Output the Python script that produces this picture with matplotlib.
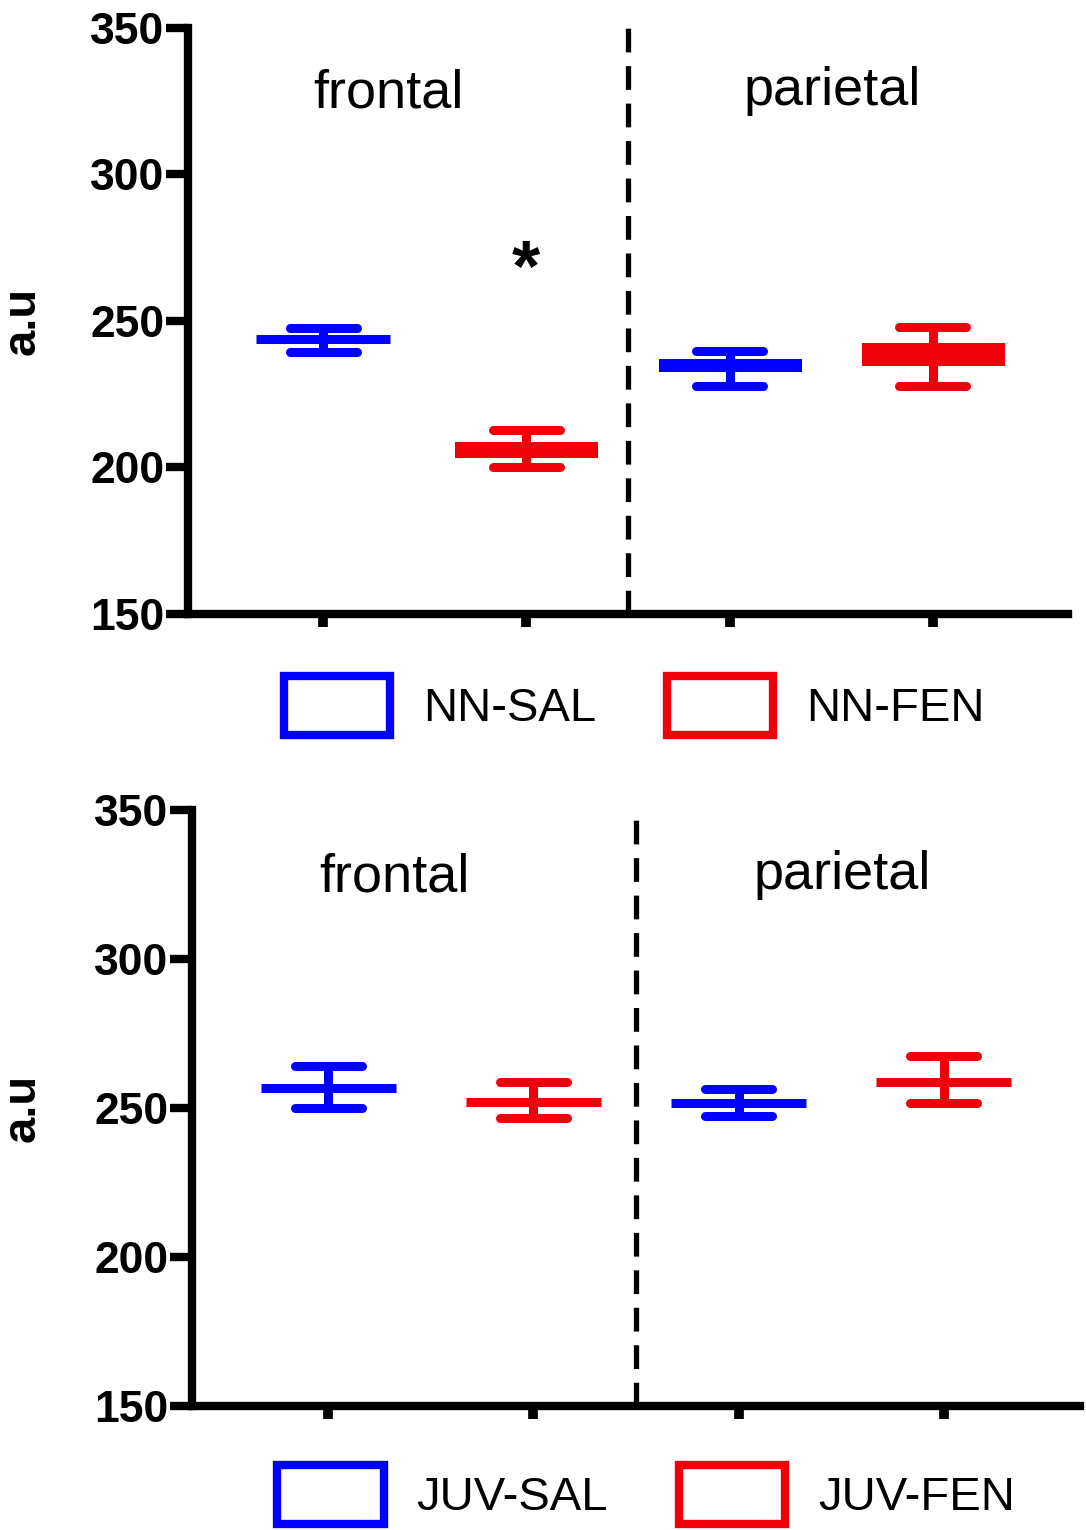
import matplotlib.pyplot as plt
from matplotlib.patches import Patch

plt.rcParams['font.family'] = ['Liberation Sans', 'DejaVu Sans']

# x positions: frontal SAL, frontal FEN, parietal SAL, parietal FEN
positions = [0, 1, 2, 3]
regions = ['frontal', 'parietal']
colors = ['#0000ff', '#f0000a', '#0000ff', '#f0000a']
yticks = [150, 200, 250, 300, 350]

# neonatal (top panel)
nn_groups = ['NN-SAL', 'NN-FEN']
nn_box_lo = [244.0, 204.9, 234.4, 236.3]
nn_box_hi = [244.0, 207.3, 235.6, 241.2]
nn_err_lo = [239.3, 200.0, 227.9, 227.9]
nn_err_hi = [247.7, 212.7, 239.9, 248.1]
nn_star = (1, 260.5)

# juvenile (bottom panel)
juv_groups = ['JUV-SAL', 'JUV-FEN']
juv_box_lo = [256.7, 252.1, 251.6, 258.7]
juv_box_hi = [256.7, 252.1, 251.6, 258.7]
juv_err_lo = [250.2, 246.8, 247.5, 251.8]
juv_err_hi = [264.2, 258.9, 256.4, 267.5]

fig = plt.figure(figsize=(10.86, 15.30), dpi=100)
ax1 = fig.add_axes([0.1731, 0.5987, 0.8103, 0.3830])
ax2 = fig.add_axes([0.1768, 0.0810, 0.8177, 0.3895])

LW = 6.5


def draw_panel(ax, box_lo, box_hi, err_lo, err_hi, groups, leg_xy):
    heights = [h - l for l, h in zip(box_lo, box_hi)]
    ax.bar(positions, heights, bottom=box_lo, width=0.66, color=colors,
           edgecolor=colors, linewidth=LW, zorder=3)
    ax.vlines(positions, err_lo, err_hi, colors=colors, linewidth=LW, zorder=3)
    left = [p - 0.165 for p in positions]
    right = [p + 0.165 for p in positions]
    ax.hlines(err_lo, left, right, colors=colors, linewidth=LW,
              capstyle='round', zorder=3)
    ax.hlines(err_hi, left, right, colors=colors, linewidth=LW,
              capstyle='round', zorder=3)

    ax.axvline(1.5, color='black', linewidth=3.8, dashes=(4.5, 2.6), zorder=2)

    ax.text(0.32, 322.7, regions[0], ha='center', va='baseline', fontsize=39)
    ax.text(2.504, 323.7, regions[1], ha='center', va='baseline', fontsize=39)

    ax.set_xlim(-0.665, 3.665)
    ax.set_ylim(150, 350)
    ax.set_yticks(yticks)
    ax.set_xticks(positions)
    ax.set_xticklabels([])
    for s in ['top', 'right']:
        ax.spines[s].set_visible(False)
    for s in ['left', 'bottom']:
        ax.spines[s].set_linewidth(6)
    ax.tick_params(axis='y', length=16, width=6, labelsize=32, pad=1)
    ax.tick_params(axis='x', length=9, width=7)
    for lab in ax.get_yticklabels():
        lab.set_fontweight('bold')
    ax.set_ylabel('a.u', fontsize=34, fontweight='bold')

    handles = [Patch(facecolor='white', edgecolor=c, linewidth=6) for c in colors[:2]]
    ax.legend(handles, groups, loc='center', bbox_to_anchor=leg_xy,
              bbox_transform=fig.transFigure, ncol=2, frameon=False,
              fontsize=34, handlelength=2.25, handleheight=1.55,
              handletextpad=0.7, columnspacing=1.5)


draw_panel(ax1, nn_box_lo, nn_box_hi, nn_err_lo, nn_err_hi, nn_groups, (0.584, 0.539))
draw_panel(ax2, juv_box_lo, juv_box_hi, juv_err_lo, juv_err_hi, juv_groups, (0.595, 0.023))

ax1.text(nn_star[0], nn_star[1], '*', ha='center', va='baseline',
         fontsize=52, fontweight='bold')

ax1.yaxis.set_label_coords(-0.1625, 0.5)
ax2.yaxis.set_label_coords(-0.1655, 0.5)

fig.savefig('out.png', dpi=100)
